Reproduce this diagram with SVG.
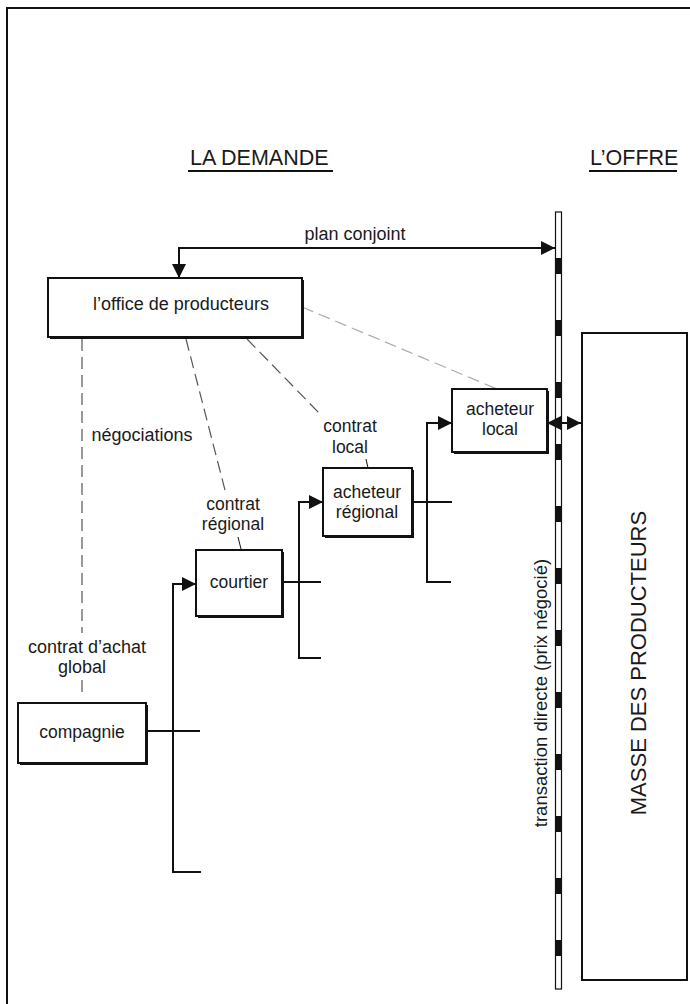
<svg xmlns="http://www.w3.org/2000/svg" width="690" height="1004" viewBox="0 0 690 1004">
<style>
text{font-family:"Liberation Sans",Arial,sans-serif;fill:#1a1a1a}
.lbl{font-size:17.5px;text-anchor:middle}
.head{font-size:21.5px}
.ln{stroke:#111;stroke-width:2;fill:none}
.dash{stroke:#555;stroke-width:1.2;stroke-dasharray:12 6;fill:none}
.dashl{stroke:#aaa;stroke-width:1.2;stroke-dasharray:12 6;fill:none}
.box{fill:#fff;stroke:#111;stroke-width:2}
.sh{fill:#111}
</style>
<defs>
<marker id="ah" markerUnits="userSpaceOnUse" markerWidth="14" markerHeight="14" refX="12" refY="6" orient="auto-start-reverse" viewBox="0 0 12 12">
<path d="M0,0 L12,6 L0,12 z" fill="#111"/>
</marker>
</defs>
<rect width="690" height="1004" fill="#fff"/>
<g id="frame">
<path class="ln" d="M7,1004 V8 H690"/>
</g>
<g id="headings">
<text class="head" x="190" y="165">LA DEMANDE</text>
<line x1="188" y1="171" x2="333" y2="171" stroke="#111" stroke-width="2"/>
<text class="head" x="590" y="165">L’OFFRE</text>
<line x1="589" y1="171" x2="677" y2="171" stroke="#111" stroke-width="2"/>
</g>
<g id="connectors">
<path class="ln" d="M555,248 H179 V278" marker-start="url(#ah)" marker-end="url(#ah)"/>
<path class="dash" d="M82,339 V633 M82,680 V694"/>
<path class="dash" d="M186,339 L226,494"/>
<path class="ln" style="stroke-width:1" d="M238,537 L241,549"/>
<path class="dash" d="M247,339 L322,416"/>
<path class="ln" style="stroke-width:1" d="M366,459 L368,468"/>
<path class="dashl" d="M302,307 L497,389"/>
<path class="ln" d="M146,731 H200"/>
<path class="ln" d="M201,872 H173 V584 H196" marker-end="url(#ah)"/>
<path class="ln" d="M282,582 H321"/>
<path class="ln" d="M321,658 H299 V502 H323" marker-end="url(#ah)"/>
<path class="ln" d="M412,502 H452"/>
<path class="ln" d="M451,582 H427 V423 H452" marker-end="url(#ah)"/>
</g>
<g id="bar">
<rect x="555.5" y="212" width="6" height="777" fill="#fff" stroke="#111" stroke-width="1.2"/>
<line x1="558.5" y1="212" x2="558.5" y2="989" stroke="#111" stroke-width="5" stroke-dasharray="16 46" stroke-dashoffset="16"/>
</g>
<g id="direct-arrow">
<path class="ln" d="M547,423 H581" marker-start="url(#ah)" marker-end="url(#ah)"/>
</g>
<g id="office">
<rect class="sh" x="50" y="280" width="254" height="59"/>
<rect class="box" x="48" y="278" width="254" height="59"/>
<text class="lbl" x="181" y="310" style="font-size:18px">l’office de producteurs</text>
</g>
<g id="compagnie">
<rect class="sh" x="20" y="705" width="128" height="60"/>
<rect class="box" x="18" y="703" width="128" height="60"/>
<text class="lbl" x="82" y="738">compagnie</text>
</g>
<g id="courtier">
<rect class="sh" x="198" y="552" width="86" height="66"/>
<rect class="box" x="196" y="550" width="86" height="66"/>
<text class="lbl" x="239" y="588">courtier</text>
</g>
<g id="acheteur-regional">
<rect class="sh" x="325" y="470" width="89" height="68"/>
<rect class="box" x="323" y="468" width="89" height="68"/>
<text class="lbl" x="367" y="498">acheteur</text>
<text class="lbl" x="367" y="518">régional</text>
</g>
<g id="acheteur-local">
<rect class="sh" x="454" y="391" width="95" height="63"/>
<rect class="box" x="452" y="389" width="95" height="63"/>
<text class="lbl" x="500" y="415">acheteur</text>
<text class="lbl" x="500" y="435">local</text>
</g>
<g id="masse">
<rect class="box" x="582" y="333" width="105" height="647"/>
<text x="646" y="663" text-anchor="middle" style="font-size:22px" transform="rotate(-90 646 663)">MASSE DES PRODUCTEURS</text>
</g>
<g id="labels">
<text class="lbl" x="355" y="240" style="font-size:18px">plan conjoint</text>
<text class="lbl" x="142" y="441" style="font-size:18px">négociations</text>
<text class="lbl" x="233" y="510">contrat</text>
<text class="lbl" x="233" y="530">régional</text>
<text class="lbl" x="350" y="432">contrat</text>
<text class="lbl" x="350" y="453">local</text>
<text class="lbl" x="87" y="653" style="font-size:18px">contrat d’achat</text>
<text class="lbl" x="82" y="673" style="font-size:18px">global</text>
<text x="547" y="693" text-anchor="middle" style="font-size:18.5px" transform="rotate(-90 547 693)">transaction directe (prix négocié)</text>
</g>
</svg>
